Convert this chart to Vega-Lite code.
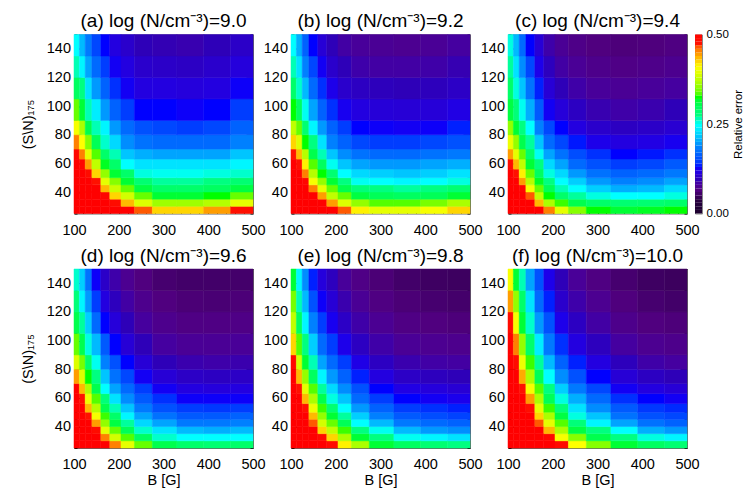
{"$schema":"https://vega.github.io/schema/vega-lite/v6.json","background":"white","padding":{"left":20,"top":11.5,"right":0,"bottom":5},
"config":{"font":"Liberation Sans","view":{"stroke":null},"title":{"fontSize":19,"fontWeight":"normal","color":"#000","anchor":"middle","offset":-4.5},"axis":{"grid":false,"zindex":1,"domainColor":"#666","tickColor":"#000","labelFontSize":14.5,"titleFontSize":14.5,"titleFontWeight":"normal","labelColor":"#000","titleColor":"#000","labelOverlap":false,"labelBound":false,"labelFlush":false}},
"datasets":{
"bx":[{"b":100,"b2":112},{"b":112,"b2":125},{"b":125,"b2":140},{"b":140,"b2":160},{"b":160,"b2":180},{"b":180,"b2":205},{"b":205,"b2":235},{"b":235,"b2":275},{"b":275,"b2":330},{"b":330,"b2":390},{"b":390,"b2":450},{"b":450,"b2":500}],
"sx":[{"s":25,"s2":30},{"s":30,"s2":35},{"s":35,"s2":40},{"s":40,"s2":45},{"s":45,"s2":50},{"s":50,"s2":56},{"s":56,"s2":63},{"s":63,"s2":70},{"s":70,"s2":80},{"s":80,"s2":90},{"s":90,"s2":105},{"s":105,"s2":120},{"s":120,"s2":135},{"s":135,"s2":150}],
"a":[{"b":100,"s":25,"e":0.5},{"b":100,"s":30,"e":0.5},{"b":100,"s":35,"e":0.5},{"b":100,"s":40,"e":0.5},{"b":100,"s":45,"e":0.5},{"b":100,"s":50,"e":0.5},{"b":100,"s":56,"e":0.5},{"b":100,"s":63,"e":0.49},{"b":100,"s":70,"e":0.45},{"b":100,"s":80,"e":0.4},{"b":100,"s":90,"e":0.335},{"b":100,"s":105,"e":0.29},{"b":100,"s":120,"e":0.26},{"b":100,"s":135,"e":0.24},
{"b":112,"s":25,"e":0.5},{"b":112,"s":30,"e":0.5},{"b":112,"s":35,"e":0.5},{"b":112,"s":40,"e":0.5},{"b":112,"s":45,"e":0.5},{"b":112,"s":50,"e":0.5},{"b":112,"s":56,"e":0.49},{"b":112,"s":63,"e":0.45},{"b":112,"s":70,"e":0.405},{"b":112,"s":80,"e":0.36},{"b":112,"s":90,"e":0.31},{"b":112,"s":105,"e":0.27},{"b":112,"s":120,"e":0.235},{"b":112,"s":135,"e":0.205},
{"b":125,"s":25,"e":0.5},{"b":125,"s":30,"e":0.5},{"b":125,"s":35,"e":0.5},{"b":125,"s":40,"e":0.5},{"b":125,"s":45,"e":0.5},{"b":125,"s":50,"e":0.48},{"b":125,"s":56,"e":0.44},{"b":125,"s":63,"e":0.39},{"b":125,"s":70,"e":0.345},{"b":125,"s":80,"e":0.3},{"b":125,"s":90,"e":0.26},{"b":125,"s":105,"e":0.225},{"b":125,"s":120,"e":0.195},{"b":125,"s":135,"e":0.175},
{"b":140,"s":25,"e":0.5},{"b":140,"s":30,"e":0.5},{"b":140,"s":35,"e":0.5},{"b":140,"s":40,"e":0.5},{"b":140,"s":45,"e":0.47},{"b":140,"s":50,"e":0.42},{"b":140,"s":56,"e":0.37},{"b":140,"s":63,"e":0.33},{"b":140,"s":70,"e":0.295},{"b":140,"s":80,"e":0.26},{"b":140,"s":90,"e":0.23},{"b":140,"s":105,"e":0.19},{"b":140,"s":120,"e":0.165},{"b":140,"s":135,"e":0.145},
{"b":160,"s":25,"e":0.5},{"b":160,"s":30,"e":0.5},{"b":160,"s":35,"e":0.49},{"b":160,"s":40,"e":0.43},{"b":160,"s":45,"e":0.39},{"b":160,"s":50,"e":0.35},{"b":160,"s":56,"e":0.315},{"b":160,"s":63,"e":0.285},{"b":160,"s":70,"e":0.255},{"b":160,"s":80,"e":0.235},{"b":160,"s":90,"e":0.19},{"b":160,"s":105,"e":0.16},{"b":160,"s":120,"e":0.14},{"b":160,"s":135,"e":0.125},
{"b":180,"s":25,"e":0.5},{"b":180,"s":30,"e":0.48},{"b":180,"s":35,"e":0.42},{"b":180,"s":40,"e":0.375},{"b":180,"s":45,"e":0.345},{"b":180,"s":50,"e":0.31},{"b":180,"s":56,"e":0.285},{"b":180,"s":63,"e":0.26},{"b":180,"s":70,"e":0.22},{"b":180,"s":80,"e":0.19},{"b":180,"s":90,"e":0.16},{"b":180,"s":105,"e":0.135},{"b":180,"s":120,"e":0.12},{"b":180,"s":135,"e":0.11},
{"b":205,"s":25,"e":0.5},{"b":205,"s":30,"e":0.43},{"b":205,"s":35,"e":0.38},{"b":205,"s":40,"e":0.335},{"b":205,"s":45,"e":0.31},{"b":205,"s":50,"e":0.285},{"b":205,"s":56,"e":0.24},{"b":205,"s":63,"e":0.21},{"b":205,"s":70,"e":0.185},{"b":205,"s":80,"e":0.165},{"b":205,"s":90,"e":0.14},{"b":205,"s":105,"e":0.12},{"b":205,"s":120,"e":0.11},{"b":205,"s":135,"e":0.1},
{"b":235,"s":25,"e":0.46},{"b":235,"s":30,"e":0.385},{"b":235,"s":35,"e":0.335},{"b":235,"s":40,"e":0.305},{"b":235,"s":45,"e":0.28},{"b":235,"s":50,"e":0.25},{"b":235,"s":56,"e":0.225},{"b":235,"s":63,"e":0.2},{"b":235,"s":70,"e":0.17},{"b":235,"s":80,"e":0.15},{"b":235,"s":90,"e":0.125},{"b":235,"s":105,"e":0.11},{"b":235,"s":120,"e":0.1},{"b":235,"s":135,"e":0.09},
{"b":275,"s":25,"e":0.42},{"b":275,"s":30,"e":0.355},{"b":275,"s":35,"e":0.31},{"b":275,"s":40,"e":0.285},{"b":275,"s":45,"e":0.265},{"b":275,"s":50,"e":0.245},{"b":275,"s":56,"e":0.225},{"b":275,"s":63,"e":0.195},{"b":275,"s":70,"e":0.165},{"b":275,"s":80,"e":0.145},{"b":275,"s":90,"e":0.125},{"b":275,"s":105,"e":0.11},{"b":275,"s":120,"e":0.098},{"b":275,"s":135,"e":0.088},
{"b":330,"s":25,"e":0.42},{"b":330,"s":30,"e":0.355},{"b":330,"s":35,"e":0.31},{"b":330,"s":40,"e":0.285},{"b":330,"s":45,"e":0.265},{"b":330,"s":50,"e":0.245},{"b":330,"s":56,"e":0.225},{"b":330,"s":63,"e":0.195},{"b":330,"s":70,"e":0.165},{"b":330,"s":80,"e":0.14},{"b":330,"s":90,"e":0.122},{"b":330,"s":105,"e":0.108},{"b":330,"s":120,"e":0.096},{"b":330,"s":135,"e":0.086},
{"b":390,"s":25,"e":0.44},{"b":390,"s":30,"e":0.365},{"b":390,"s":35,"e":0.32},{"b":390,"s":40,"e":0.29},{"b":390,"s":45,"e":0.27},{"b":390,"s":50,"e":0.25},{"b":390,"s":56,"e":0.225},{"b":390,"s":63,"e":0.195},{"b":390,"s":70,"e":0.165},{"b":390,"s":80,"e":0.145},{"b":390,"s":90,"e":0.125},{"b":390,"s":105,"e":0.11},{"b":390,"s":120,"e":0.1},{"b":390,"s":135,"e":0.09},
{"b":450,"s":25,"e":0.47},{"b":450,"s":30,"e":0.39},{"b":450,"s":35,"e":0.335},{"b":450,"s":40,"e":0.305},{"b":450,"s":45,"e":0.28},{"b":450,"s":50,"e":0.255},{"b":450,"s":56,"e":0.235},{"b":450,"s":63,"e":0.21},{"b":450,"s":70,"e":0.18},{"b":450,"s":80,"e":0.16},{"b":450,"s":90,"e":0.14},{"b":450,"s":105,"e":0.122},{"b":450,"s":120,"e":0.108},{"b":450,"s":135,"e":0.098}],
"c1":[{"b":100,"s":25,"e":0.5},{"b":100,"s":30,"e":0.5},{"b":100,"s":35,"e":0.5},{"b":100,"s":40,"e":0.5},{"b":100,"s":45,"e":0.5},{"b":100,"s":50,"e":0.5},{"b":100,"s":56,"e":0.5},{"b":100,"s":63,"e":0.47},{"b":100,"s":70,"e":0.42},{"b":100,"s":80,"e":0.37},{"b":100,"s":90,"e":0.32},{"b":100,"s":105,"e":0.285},{"b":100,"s":120,"e":0.26},{"b":100,"s":135,"e":0.24},
{"b":112,"s":25,"e":0.5},{"b":112,"s":30,"e":0.5},{"b":112,"s":35,"e":0.5},{"b":112,"s":40,"e":0.5},{"b":112,"s":45,"e":0.5},{"b":112,"s":50,"e":0.5},{"b":112,"s":56,"e":0.47},{"b":112,"s":63,"e":0.43},{"b":112,"s":70,"e":0.385},{"b":112,"s":80,"e":0.335},{"b":112,"s":90,"e":0.29},{"b":112,"s":105,"e":0.255},{"b":112,"s":120,"e":0.225},{"b":112,"s":135,"e":0.2},
{"b":125,"s":25,"e":0.5},{"b":125,"s":30,"e":0.5},{"b":125,"s":35,"e":0.5},{"b":125,"s":40,"e":0.5},{"b":125,"s":45,"e":0.49},{"b":125,"s":50,"e":0.45},{"b":125,"s":56,"e":0.41},{"b":125,"s":63,"e":0.365},{"b":125,"s":70,"e":0.32},{"b":125,"s":80,"e":0.28},{"b":125,"s":90,"e":0.245},{"b":125,"s":105,"e":0.205},{"b":125,"s":120,"e":0.18},{"b":125,"s":135,"e":0.16},
{"b":140,"s":25,"e":0.5},{"b":140,"s":30,"e":0.5},{"b":140,"s":35,"e":0.5},{"b":140,"s":40,"e":0.45},{"b":140,"s":45,"e":0.4},{"b":140,"s":50,"e":0.365},{"b":140,"s":56,"e":0.33},{"b":140,"s":63,"e":0.3},{"b":140,"s":70,"e":0.27},{"b":140,"s":80,"e":0.235},{"b":140,"s":90,"e":0.195},{"b":140,"s":105,"e":0.165},{"b":140,"s":120,"e":0.145},{"b":140,"s":135,"e":0.125},
{"b":160,"s":25,"e":0.5},{"b":160,"s":30,"e":0.5},{"b":160,"s":35,"e":0.44},{"b":160,"s":40,"e":0.39},{"b":160,"s":45,"e":0.35},{"b":160,"s":50,"e":0.32},{"b":160,"s":56,"e":0.29},{"b":160,"s":63,"e":0.26},{"b":160,"s":70,"e":0.225},{"b":160,"s":80,"e":0.19},{"b":160,"s":90,"e":0.16},{"b":160,"s":105,"e":0.135},{"b":160,"s":120,"e":0.12},{"b":160,"s":135,"e":0.105},
{"b":180,"s":25,"e":0.5},{"b":180,"s":30,"e":0.44},{"b":180,"s":35,"e":0.37},{"b":180,"s":40,"e":0.335},{"b":180,"s":45,"e":0.31},{"b":180,"s":50,"e":0.28},{"b":180,"s":56,"e":0.245},{"b":180,"s":63,"e":0.21},{"b":180,"s":70,"e":0.18},{"b":180,"s":80,"e":0.16},{"b":180,"s":90,"e":0.135},{"b":180,"s":105,"e":0.115},{"b":180,"s":120,"e":0.1},{"b":180,"s":135,"e":0.09},
{"b":205,"s":25,"e":0.46},{"b":205,"s":30,"e":0.385},{"b":205,"s":35,"e":0.335},{"b":205,"s":40,"e":0.3},{"b":205,"s":45,"e":0.27},{"b":205,"s":50,"e":0.24},{"b":205,"s":56,"e":0.21},{"b":205,"s":63,"e":0.185},{"b":205,"s":70,"e":0.16},{"b":205,"s":80,"e":0.14},{"b":205,"s":90,"e":0.118},{"b":205,"s":105,"e":0.1},{"b":205,"s":120,"e":0.09},{"b":205,"s":135,"e":0.08},
{"b":235,"s":25,"e":0.41},{"b":235,"s":30,"e":0.35},{"b":235,"s":35,"e":0.305},{"b":235,"s":40,"e":0.275},{"b":235,"s":45,"e":0.245},{"b":235,"s":50,"e":0.22},{"b":235,"s":56,"e":0.195},{"b":235,"s":63,"e":0.17},{"b":235,"s":70,"e":0.145},{"b":235,"s":80,"e":0.125},{"b":235,"s":90,"e":0.11},{"b":235,"s":105,"e":0.095},{"b":235,"s":120,"e":0.083},{"b":235,"s":135,"e":0.075},
{"b":275,"s":25,"e":0.39},{"b":275,"s":30,"e":0.33},{"b":275,"s":35,"e":0.295},{"b":275,"s":40,"e":0.27},{"b":275,"s":45,"e":0.24},{"b":275,"s":50,"e":0.215},{"b":275,"s":56,"e":0.19},{"b":275,"s":63,"e":0.165},{"b":275,"s":70,"e":0.14},{"b":275,"s":80,"e":0.122},{"b":275,"s":90,"e":0.106},{"b":275,"s":105,"e":0.092},{"b":275,"s":120,"e":0.08},{"b":275,"s":135,"e":0.072},
{"b":330,"s":25,"e":0.39},{"b":330,"s":30,"e":0.33},{"b":330,"s":35,"e":0.29},{"b":330,"s":40,"e":0.265},{"b":330,"s":45,"e":0.235},{"b":330,"s":50,"e":0.21},{"b":330,"s":56,"e":0.19},{"b":330,"s":63,"e":0.165},{"b":330,"s":70,"e":0.14},{"b":330,"s":80,"e":0.12},{"b":330,"s":90,"e":0.105},{"b":330,"s":105,"e":0.09},{"b":330,"s":120,"e":0.08},{"b":330,"s":135,"e":0.07},
{"b":390,"s":25,"e":0.4},{"b":390,"s":30,"e":0.34},{"b":390,"s":35,"e":0.295},{"b":390,"s":40,"e":0.27},{"b":390,"s":45,"e":0.24},{"b":390,"s":50,"e":0.215},{"b":390,"s":56,"e":0.195},{"b":390,"s":63,"e":0.17},{"b":390,"s":70,"e":0.145},{"b":390,"s":80,"e":0.122},{"b":390,"s":90,"e":0.106},{"b":390,"s":105,"e":0.092},{"b":390,"s":120,"e":0.082},{"b":390,"s":135,"e":0.073},
{"b":450,"s":25,"e":0.42},{"b":450,"s":30,"e":0.36},{"b":450,"s":35,"e":0.31},{"b":450,"s":40,"e":0.28},{"b":450,"s":45,"e":0.25},{"b":450,"s":50,"e":0.225},{"b":450,"s":56,"e":0.2},{"b":450,"s":63,"e":0.175},{"b":450,"s":70,"e":0.15},{"b":450,"s":80,"e":0.13},{"b":450,"s":90,"e":0.112},{"b":450,"s":105,"e":0.097},{"b":450,"s":120,"e":0.087},{"b":450,"s":135,"e":0.078}],
"c2":[{"b":100,"s":25,"e":0.5},{"b":100,"s":30,"e":0.5},{"b":100,"s":35,"e":0.5},{"b":100,"s":40,"e":0.5},{"b":100,"s":45,"e":0.5},{"b":100,"s":50,"e":0.5},{"b":100,"s":56,"e":0.48},{"b":100,"s":63,"e":0.44},{"b":100,"s":70,"e":0.395},{"b":100,"s":80,"e":0.35},{"b":100,"s":90,"e":0.305},{"b":100,"s":105,"e":0.285},{"b":100,"s":120,"e":0.265},{"b":100,"s":135,"e":0.25},
{"b":112,"s":25,"e":0.5},{"b":112,"s":30,"e":0.5},{"b":112,"s":35,"e":0.5},{"b":112,"s":40,"e":0.5},{"b":112,"s":45,"e":0.5},{"b":112,"s":50,"e":0.47},{"b":112,"s":56,"e":0.43},{"b":112,"s":63,"e":0.39},{"b":112,"s":70,"e":0.35},{"b":112,"s":80,"e":0.31},{"b":112,"s":90,"e":0.275},{"b":112,"s":105,"e":0.25},{"b":112,"s":120,"e":0.225},{"b":112,"s":135,"e":0.205},
{"b":125,"s":25,"e":0.5},{"b":125,"s":30,"e":0.5},{"b":125,"s":35,"e":0.5},{"b":125,"s":40,"e":0.49},{"b":125,"s":45,"e":0.44},{"b":125,"s":50,"e":0.41},{"b":125,"s":56,"e":0.37},{"b":125,"s":63,"e":0.335},{"b":125,"s":70,"e":0.3},{"b":125,"s":80,"e":0.27},{"b":125,"s":90,"e":0.245},{"b":125,"s":105,"e":0.21},{"b":125,"s":120,"e":0.185},{"b":125,"s":135,"e":0.165},
{"b":140,"s":25,"e":0.5},{"b":140,"s":30,"e":0.5},{"b":140,"s":35,"e":0.46},{"b":140,"s":40,"e":0.4},{"b":140,"s":45,"e":0.365},{"b":140,"s":50,"e":0.335},{"b":140,"s":56,"e":0.31},{"b":140,"s":63,"e":0.285},{"b":140,"s":70,"e":0.265},{"b":140,"s":80,"e":0.24},{"b":140,"s":90,"e":0.2},{"b":140,"s":105,"e":0.17},{"b":140,"s":120,"e":0.145},{"b":140,"s":135,"e":0.125},
{"b":160,"s":25,"e":0.5},{"b":160,"s":30,"e":0.43},{"b":160,"s":35,"e":0.37},{"b":160,"s":40,"e":0.335},{"b":160,"s":45,"e":0.315},{"b":160,"s":50,"e":0.29},{"b":160,"s":56,"e":0.27},{"b":160,"s":63,"e":0.245},{"b":160,"s":70,"e":0.21},{"b":160,"s":80,"e":0.18},{"b":160,"s":90,"e":0.155},{"b":160,"s":105,"e":0.13},{"b":160,"s":120,"e":0.115},{"b":160,"s":135,"e":0.105},
{"b":180,"s":25,"e":0.45},{"b":180,"s":30,"e":0.36},{"b":180,"s":35,"e":0.32},{"b":180,"s":40,"e":0.295},{"b":180,"s":45,"e":0.27},{"b":180,"s":50,"e":0.25},{"b":180,"s":56,"e":0.22},{"b":180,"s":63,"e":0.195},{"b":180,"s":70,"e":0.165},{"b":180,"s":80,"e":0.145},{"b":180,"s":90,"e":0.12},{"b":180,"s":105,"e":0.105},{"b":180,"s":120,"e":0.093},{"b":180,"s":135,"e":0.083},
{"b":205,"s":25,"e":0.39},{"b":205,"s":30,"e":0.325},{"b":205,"s":35,"e":0.285},{"b":205,"s":40,"e":0.26},{"b":205,"s":45,"e":0.24},{"b":205,"s":50,"e":0.22},{"b":205,"s":56,"e":0.195},{"b":205,"s":63,"e":0.17},{"b":205,"s":70,"e":0.145},{"b":205,"s":80,"e":0.125},{"b":205,"s":90,"e":0.107},{"b":205,"s":105,"e":0.09},{"b":205,"s":120,"e":0.08},{"b":205,"s":135,"e":0.072},
{"b":235,"s":25,"e":0.345},{"b":235,"s":30,"e":0.3},{"b":235,"s":35,"e":0.265},{"b":235,"s":40,"e":0.24},{"b":235,"s":45,"e":0.215},{"b":235,"s":50,"e":0.19},{"b":235,"s":56,"e":0.165},{"b":235,"s":63,"e":0.148},{"b":235,"s":70,"e":0.128},{"b":235,"s":80,"e":0.11},{"b":235,"s":90,"e":0.095},{"b":235,"s":105,"e":0.082},{"b":235,"s":120,"e":0.073},{"b":235,"s":135,"e":0.065},
{"b":275,"s":25,"e":0.32},{"b":275,"s":30,"e":0.285},{"b":275,"s":35,"e":0.25},{"b":275,"s":40,"e":0.215},{"b":275,"s":45,"e":0.19},{"b":275,"s":50,"e":0.17},{"b":275,"s":56,"e":0.15},{"b":275,"s":63,"e":0.135},{"b":275,"s":70,"e":0.115},{"b":275,"s":80,"e":0.1},{"b":275,"s":90,"e":0.086},{"b":275,"s":105,"e":0.075},{"b":275,"s":120,"e":0.067},{"b":275,"s":135,"e":0.06},
{"b":330,"s":25,"e":0.31},{"b":330,"s":30,"e":0.28},{"b":330,"s":35,"e":0.24},{"b":330,"s":40,"e":0.2},{"b":330,"s":45,"e":0.18},{"b":330,"s":50,"e":0.16},{"b":330,"s":56,"e":0.14},{"b":330,"s":63,"e":0.125},{"b":330,"s":70,"e":0.11},{"b":330,"s":80,"e":0.095},{"b":330,"s":90,"e":0.082},{"b":330,"s":105,"e":0.072},{"b":330,"s":120,"e":0.064},{"b":330,"s":135,"e":0.058},
{"b":390,"s":25,"e":0.315},{"b":390,"s":30,"e":0.28},{"b":390,"s":35,"e":0.24},{"b":390,"s":40,"e":0.205},{"b":390,"s":45,"e":0.185},{"b":390,"s":50,"e":0.165},{"b":390,"s":56,"e":0.145},{"b":390,"s":63,"e":0.128},{"b":390,"s":70,"e":0.112},{"b":390,"s":80,"e":0.098},{"b":390,"s":90,"e":0.085},{"b":390,"s":105,"e":0.075},{"b":390,"s":120,"e":0.066},{"b":390,"s":135,"e":0.059},
{"b":450,"s":25,"e":0.32},{"b":450,"s":30,"e":0.285},{"b":450,"s":35,"e":0.25},{"b":450,"s":40,"e":0.22},{"b":450,"s":45,"e":0.195},{"b":450,"s":50,"e":0.175},{"b":450,"s":56,"e":0.155},{"b":450,"s":63,"e":0.135},{"b":450,"s":70,"e":0.118},{"b":450,"s":80,"e":0.103},{"b":450,"s":90,"e":0.09},{"b":450,"s":105,"e":0.078},{"b":450,"s":120,"e":0.069},{"b":450,"s":135,"e":0.062}],
"d":[{"b":100,"s":25,"e":0.5},{"b":100,"s":30,"e":0.5},{"b":100,"s":35,"e":0.5},{"b":100,"s":40,"e":0.5},{"b":100,"s":45,"e":0.5},{"b":100,"s":50,"e":0.5},{"b":100,"s":56,"e":0.5},{"b":100,"s":63,"e":0.5},{"b":100,"s":70,"e":0.44},{"b":100,"s":80,"e":0.385},{"b":100,"s":90,"e":0.335},{"b":100,"s":105,"e":0.3},{"b":100,"s":120,"e":0.275},{"b":100,"s":135,"e":0.255},
{"b":112,"s":25,"e":0.5},{"b":112,"s":30,"e":0.5},{"b":112,"s":35,"e":0.5},{"b":112,"s":40,"e":0.5},{"b":112,"s":45,"e":0.5},{"b":112,"s":50,"e":0.5},{"b":112,"s":56,"e":0.47},{"b":112,"s":63,"e":0.43},{"b":112,"s":70,"e":0.385},{"b":112,"s":80,"e":0.34},{"b":112,"s":90,"e":0.3},{"b":112,"s":105,"e":0.265},{"b":112,"s":120,"e":0.235},{"b":112,"s":135,"e":0.215},
{"b":125,"s":25,"e":0.5},{"b":125,"s":30,"e":0.5},{"b":125,"s":35,"e":0.5},{"b":125,"s":40,"e":0.5},{"b":125,"s":45,"e":0.47},{"b":125,"s":50,"e":0.43},{"b":125,"s":56,"e":0.395},{"b":125,"s":63,"e":0.36},{"b":125,"s":70,"e":0.32},{"b":125,"s":80,"e":0.285},{"b":125,"s":90,"e":0.25},{"b":125,"s":105,"e":0.215},{"b":125,"s":120,"e":0.19},{"b":125,"s":135,"e":0.17},
{"b":140,"s":25,"e":0.5},{"b":140,"s":30,"e":0.5},{"b":140,"s":35,"e":0.48},{"b":140,"s":40,"e":0.44},{"b":140,"s":45,"e":0.4},{"b":140,"s":50,"e":0.365},{"b":140,"s":56,"e":0.33},{"b":140,"s":63,"e":0.3},{"b":140,"s":70,"e":0.27},{"b":140,"s":80,"e":0.245},{"b":140,"s":90,"e":0.205},{"b":140,"s":105,"e":0.165},{"b":140,"s":120,"e":0.14},{"b":140,"s":135,"e":0.122},
{"b":160,"s":25,"e":0.5},{"b":160,"s":30,"e":0.45},{"b":160,"s":35,"e":0.39},{"b":160,"s":40,"e":0.35},{"b":160,"s":45,"e":0.325},{"b":160,"s":50,"e":0.3},{"b":160,"s":56,"e":0.275},{"b":160,"s":63,"e":0.24},{"b":160,"s":70,"e":0.21},{"b":160,"s":80,"e":0.18},{"b":160,"s":90,"e":0.155},{"b":160,"s":105,"e":0.125},{"b":160,"s":120,"e":0.11},{"b":160,"s":135,"e":0.098},
{"b":180,"s":25,"e":0.45},{"b":180,"s":30,"e":0.38},{"b":180,"s":35,"e":0.335},{"b":180,"s":40,"e":0.305},{"b":180,"s":45,"e":0.285},{"b":180,"s":50,"e":0.26},{"b":180,"s":56,"e":0.225},{"b":180,"s":63,"e":0.195},{"b":180,"s":70,"e":0.17},{"b":180,"s":80,"e":0.15},{"b":180,"s":90,"e":0.125},{"b":180,"s":105,"e":0.107},{"b":180,"s":120,"e":0.093},{"b":180,"s":135,"e":0.083},
{"b":205,"s":25,"e":0.39},{"b":205,"s":30,"e":0.33},{"b":205,"s":35,"e":0.295},{"b":205,"s":40,"e":0.265},{"b":205,"s":45,"e":0.235},{"b":205,"s":50,"e":0.21},{"b":205,"s":56,"e":0.185},{"b":205,"s":63,"e":0.165},{"b":205,"s":70,"e":0.145},{"b":205,"s":80,"e":0.125},{"b":205,"s":90,"e":0.105},{"b":205,"s":105,"e":0.09},{"b":205,"s":120,"e":0.08},{"b":205,"s":135,"e":0.07},
{"b":235,"s":25,"e":0.335},{"b":235,"s":30,"e":0.29},{"b":235,"s":35,"e":0.255},{"b":235,"s":40,"e":0.22},{"b":235,"s":45,"e":0.195},{"b":235,"s":50,"e":0.175},{"b":235,"s":56,"e":0.155},{"b":235,"s":63,"e":0.14},{"b":235,"s":70,"e":0.12},{"b":235,"s":80,"e":0.105},{"b":235,"s":90,"e":0.09},{"b":235,"s":105,"e":0.077},{"b":235,"s":120,"e":0.068},{"b":235,"s":135,"e":0.06},
{"b":275,"s":25,"e":0.3},{"b":275,"s":30,"e":0.255},{"b":275,"s":35,"e":0.225},{"b":275,"s":40,"e":0.195},{"b":275,"s":45,"e":0.17},{"b":275,"s":50,"e":0.15},{"b":275,"s":56,"e":0.135},{"b":275,"s":63,"e":0.12},{"b":275,"s":70,"e":0.105},{"b":275,"s":80,"e":0.09},{"b":275,"s":90,"e":0.078},{"b":275,"s":105,"e":0.068},{"b":275,"s":120,"e":0.06},{"b":275,"s":135,"e":0.053},
{"b":330,"s":25,"e":0.285},{"b":330,"s":30,"e":0.24},{"b":330,"s":35,"e":0.205},{"b":330,"s":40,"e":0.175},{"b":330,"s":45,"e":0.155},{"b":330,"s":50,"e":0.14},{"b":330,"s":56,"e":0.122},{"b":330,"s":63,"e":0.11},{"b":330,"s":70,"e":0.097},{"b":330,"s":80,"e":0.085},{"b":330,"s":90,"e":0.073},{"b":330,"s":105,"e":0.063},{"b":330,"s":120,"e":0.056},{"b":330,"s":135,"e":0.05},
{"b":390,"s":25,"e":0.28},{"b":390,"s":30,"e":0.24},{"b":390,"s":35,"e":0.2},{"b":390,"s":40,"e":0.175},{"b":390,"s":45,"e":0.155},{"b":390,"s":50,"e":0.138},{"b":390,"s":56,"e":0.122},{"b":390,"s":63,"e":0.108},{"b":390,"s":70,"e":0.095},{"b":390,"s":80,"e":0.083},{"b":390,"s":90,"e":0.072},{"b":390,"s":105,"e":0.063},{"b":390,"s":120,"e":0.055},{"b":390,"s":135,"e":0.05},
{"b":450,"s":25,"e":0.285},{"b":450,"s":30,"e":0.24},{"b":450,"s":35,"e":0.205},{"b":450,"s":40,"e":0.18},{"b":450,"s":45,"e":0.16},{"b":450,"s":50,"e":0.14},{"b":450,"s":56,"e":0.122},{"b":450,"s":63,"e":0.11},{"b":450,"s":70,"e":0.097},{"b":450,"s":80,"e":0.085},{"b":450,"s":90,"e":0.074},{"b":450,"s":105,"e":0.064},{"b":450,"s":120,"e":0.057},{"b":450,"s":135,"e":0.051}],
"e1":[{"b":100,"s":25,"e":0.5},{"b":100,"s":30,"e":0.5},{"b":100,"s":35,"e":0.5},{"b":100,"s":40,"e":0.5},{"b":100,"s":45,"e":0.5},{"b":100,"s":50,"e":0.5},{"b":100,"s":56,"e":0.5},{"b":100,"s":63,"e":0.5},{"b":100,"s":70,"e":0.5},{"b":100,"s":80,"e":0.49},{"b":100,"s":90,"e":0.42},{"b":100,"s":105,"e":0.37},{"b":100,"s":120,"e":0.34},{"b":100,"s":135,"e":0.31},
{"b":112,"s":25,"e":0.5},{"b":112,"s":30,"e":0.5},{"b":112,"s":35,"e":0.5},{"b":112,"s":40,"e":0.5},{"b":112,"s":45,"e":0.5},{"b":112,"s":50,"e":0.5},{"b":112,"s":56,"e":0.5},{"b":112,"s":63,"e":0.47},{"b":112,"s":70,"e":0.43},{"b":112,"s":80,"e":0.38},{"b":112,"s":90,"e":0.33},{"b":112,"s":105,"e":0.29},{"b":112,"s":120,"e":0.26},{"b":112,"s":135,"e":0.235},
{"b":125,"s":25,"e":0.5},{"b":125,"s":30,"e":0.5},{"b":125,"s":35,"e":0.5},{"b":125,"s":40,"e":0.5},{"b":125,"s":45,"e":0.5},{"b":125,"s":50,"e":0.47},{"b":125,"s":56,"e":0.43},{"b":125,"s":63,"e":0.39},{"b":125,"s":70,"e":0.35},{"b":125,"s":80,"e":0.31},{"b":125,"s":90,"e":0.27},{"b":125,"s":105,"e":0.235},{"b":125,"s":120,"e":0.205},{"b":125,"s":135,"e":0.185},
{"b":140,"s":25,"e":0.5},{"b":140,"s":30,"e":0.5},{"b":140,"s":35,"e":0.5},{"b":140,"s":40,"e":0.46},{"b":140,"s":45,"e":0.43},{"b":140,"s":50,"e":0.395},{"b":140,"s":56,"e":0.36},{"b":140,"s":63,"e":0.33},{"b":140,"s":70,"e":0.29},{"b":140,"s":80,"e":0.26},{"b":140,"s":90,"e":0.215},{"b":140,"s":105,"e":0.18},{"b":140,"s":120,"e":0.15},{"b":140,"s":135,"e":0.13},
{"b":160,"s":25,"e":0.5},{"b":160,"s":30,"e":0.48},{"b":160,"s":35,"e":0.42},{"b":160,"s":40,"e":0.38},{"b":160,"s":45,"e":0.35},{"b":160,"s":50,"e":0.325},{"b":160,"s":56,"e":0.3},{"b":160,"s":63,"e":0.265},{"b":160,"s":70,"e":0.235},{"b":160,"s":80,"e":0.195},{"b":160,"s":90,"e":0.165},{"b":160,"s":105,"e":0.14},{"b":160,"s":120,"e":0.122},{"b":160,"s":135,"e":0.108},
{"b":180,"s":25,"e":0.48},{"b":180,"s":30,"e":0.42},{"b":180,"s":35,"e":0.37},{"b":180,"s":40,"e":0.335},{"b":180,"s":45,"e":0.31},{"b":180,"s":50,"e":0.28},{"b":180,"s":56,"e":0.25},{"b":180,"s":63,"e":0.22},{"b":180,"s":70,"e":0.19},{"b":180,"s":80,"e":0.165},{"b":180,"s":90,"e":0.14},{"b":180,"s":105,"e":0.118},{"b":180,"s":120,"e":0.105},{"b":180,"s":135,"e":0.093},
{"b":205,"s":25,"e":0.41},{"b":205,"s":30,"e":0.36},{"b":205,"s":35,"e":0.325},{"b":205,"s":40,"e":0.295},{"b":205,"s":45,"e":0.265},{"b":205,"s":50,"e":0.24},{"b":205,"s":56,"e":0.21},{"b":205,"s":63,"e":0.185},{"b":205,"s":70,"e":0.16},{"b":205,"s":80,"e":0.14},{"b":205,"s":90,"e":0.115},{"b":205,"s":105,"e":0.097},{"b":205,"s":120,"e":0.085},{"b":205,"s":135,"e":0.075},
{"b":235,"s":25,"e":0.36},{"b":235,"s":30,"e":0.31},{"b":235,"s":35,"e":0.27},{"b":235,"s":40,"e":0.24},{"b":235,"s":45,"e":0.215},{"b":235,"s":50,"e":0.19},{"b":235,"s":56,"e":0.165},{"b":235,"s":63,"e":0.15},{"b":235,"s":70,"e":0.13},{"b":235,"s":80,"e":0.113},{"b":235,"s":90,"e":0.095},{"b":235,"s":105,"e":0.082},{"b":235,"s":120,"e":0.072},{"b":235,"s":135,"e":0.064},
{"b":275,"s":25,"e":0.31},{"b":275,"s":30,"e":0.27},{"b":275,"s":35,"e":0.245},{"b":275,"s":40,"e":0.205},{"b":275,"s":45,"e":0.18},{"b":275,"s":50,"e":0.16},{"b":275,"s":56,"e":0.14},{"b":275,"s":63,"e":0.125},{"b":275,"s":70,"e":0.11},{"b":275,"s":80,"e":0.095},{"b":275,"s":90,"e":0.082},{"b":275,"s":105,"e":0.071},{"b":275,"s":120,"e":0.062},{"b":275,"s":135,"e":0.056},
{"b":330,"s":25,"e":0.29},{"b":330,"s":30,"e":0.245},{"b":330,"s":35,"e":0.205},{"b":330,"s":40,"e":0.175},{"b":330,"s":45,"e":0.155},{"b":330,"s":50,"e":0.14},{"b":330,"s":56,"e":0.125},{"b":330,"s":63,"e":0.112},{"b":330,"s":70,"e":0.097},{"b":330,"s":80,"e":0.085},{"b":330,"s":90,"e":0.073},{"b":330,"s":105,"e":0.063},{"b":330,"s":120,"e":0.056},{"b":330,"s":135,"e":0.05},
{"b":390,"s":25,"e":0.28},{"b":390,"s":30,"e":0.235},{"b":390,"s":35,"e":0.19},{"b":390,"s":40,"e":0.165},{"b":390,"s":45,"e":0.148},{"b":390,"s":50,"e":0.135},{"b":390,"s":56,"e":0.12},{"b":390,"s":63,"e":0.108},{"b":390,"s":70,"e":0.093},{"b":390,"s":80,"e":0.081},{"b":390,"s":90,"e":0.07},{"b":390,"s":105,"e":0.06},{"b":390,"s":120,"e":0.053},{"b":390,"s":135,"e":0.047},
{"b":450,"s":25,"e":0.27},{"b":450,"s":30,"e":0.225},{"b":450,"s":35,"e":0.185},{"b":450,"s":40,"e":0.16},{"b":450,"s":45,"e":0.143},{"b":450,"s":50,"e":0.13},{"b":450,"s":56,"e":0.116},{"b":450,"s":63,"e":0.104},{"b":450,"s":70,"e":0.09},{"b":450,"s":80,"e":0.079},{"b":450,"s":90,"e":0.068},{"b":450,"s":105,"e":0.058},{"b":450,"s":120,"e":0.051},{"b":450,"s":135,"e":0.046}],
"f":[{"b":100,"s":25,"e":0.5},{"b":100,"s":30,"e":0.5},{"b":100,"s":35,"e":0.5},{"b":100,"s":40,"e":0.5},{"b":100,"s":45,"e":0.5},{"b":100,"s":50,"e":0.5},{"b":100,"s":56,"e":0.5},{"b":100,"s":63,"e":0.5},{"b":100,"s":70,"e":0.5},{"b":100,"s":80,"e":0.5},{"b":100,"s":90,"e":0.5},{"b":100,"s":105,"e":0.48},{"b":100,"s":120,"e":0.44},{"b":100,"s":135,"e":0.4},
{"b":112,"s":25,"e":0.5},{"b":112,"s":30,"e":0.5},{"b":112,"s":35,"e":0.5},{"b":112,"s":40,"e":0.5},{"b":112,"s":45,"e":0.5},{"b":112,"s":50,"e":0.5},{"b":112,"s":56,"e":0.5},{"b":112,"s":63,"e":0.5},{"b":112,"s":70,"e":0.5},{"b":112,"s":80,"e":0.48},{"b":112,"s":90,"e":0.45},{"b":112,"s":105,"e":0.4},{"b":112,"s":120,"e":0.35},{"b":112,"s":135,"e":0.31},
{"b":125,"s":25,"e":0.5},{"b":125,"s":30,"e":0.5},{"b":125,"s":35,"e":0.5},{"b":125,"s":40,"e":0.5},{"b":125,"s":45,"e":0.5},{"b":125,"s":50,"e":0.5},{"b":125,"s":56,"e":0.5},{"b":125,"s":63,"e":0.47},{"b":125,"s":70,"e":0.435},{"b":125,"s":80,"e":0.395},{"b":125,"s":90,"e":0.35},{"b":125,"s":105,"e":0.31},{"b":125,"s":120,"e":0.285},{"b":125,"s":135,"e":0.26},
{"b":140,"s":25,"e":0.5},{"b":140,"s":30,"e":0.5},{"b":140,"s":35,"e":0.5},{"b":140,"s":40,"e":0.5},{"b":140,"s":45,"e":0.5},{"b":140,"s":50,"e":0.475},{"b":140,"s":56,"e":0.44},{"b":140,"s":63,"e":0.4},{"b":140,"s":70,"e":0.36},{"b":140,"s":80,"e":0.325},{"b":140,"s":90,"e":0.285},{"b":140,"s":105,"e":0.255},{"b":140,"s":120,"e":0.225},{"b":140,"s":135,"e":0.195},
{"b":160,"s":25,"e":0.5},{"b":160,"s":30,"e":0.5},{"b":160,"s":35,"e":0.5},{"b":160,"s":40,"e":0.46},{"b":160,"s":45,"e":0.42},{"b":160,"s":50,"e":0.39},{"b":160,"s":56,"e":0.36},{"b":160,"s":63,"e":0.33},{"b":160,"s":70,"e":0.295},{"b":160,"s":80,"e":0.265},{"b":160,"s":90,"e":0.23},{"b":160,"s":105,"e":0.19},{"b":160,"s":120,"e":0.165},{"b":160,"s":135,"e":0.15},
{"b":180,"s":25,"e":0.5},{"b":180,"s":30,"e":0.49},{"b":180,"s":35,"e":0.43},{"b":180,"s":40,"e":0.39},{"b":180,"s":45,"e":0.36},{"b":180,"s":50,"e":0.325},{"b":180,"s":56,"e":0.295},{"b":180,"s":63,"e":0.27},{"b":180,"s":70,"e":0.24},{"b":180,"s":80,"e":0.205},{"b":180,"s":90,"e":0.175},{"b":180,"s":105,"e":0.15},{"b":180,"s":120,"e":0.13},{"b":180,"s":135,"e":0.115},
{"b":205,"s":25,"e":0.48},{"b":205,"s":30,"e":0.4},{"b":205,"s":35,"e":0.36},{"b":205,"s":40,"e":0.33},{"b":205,"s":45,"e":0.305},{"b":205,"s":50,"e":0.275},{"b":205,"s":56,"e":0.25},{"b":205,"s":63,"e":0.215},{"b":205,"s":70,"e":0.185},{"b":205,"s":80,"e":0.16},{"b":205,"s":90,"e":0.135},{"b":205,"s":105,"e":0.115},{"b":205,"s":120,"e":0.1},{"b":205,"s":135,"e":0.09},
{"b":235,"s":25,"e":0.405},{"b":235,"s":30,"e":0.345},{"b":235,"s":35,"e":0.305},{"b":235,"s":40,"e":0.275},{"b":235,"s":45,"e":0.25},{"b":235,"s":50,"e":0.225},{"b":235,"s":56,"e":0.2},{"b":235,"s":63,"e":0.175},{"b":235,"s":70,"e":0.15},{"b":235,"s":80,"e":0.13},{"b":235,"s":90,"e":0.11},{"b":235,"s":105,"e":0.095},{"b":235,"s":120,"e":0.083},{"b":235,"s":135,"e":0.074},
{"b":275,"s":25,"e":0.345},{"b":275,"s":30,"e":0.3},{"b":275,"s":35,"e":0.27},{"b":275,"s":40,"e":0.235},{"b":275,"s":45,"e":0.21},{"b":275,"s":50,"e":0.185},{"b":275,"s":56,"e":0.165},{"b":275,"s":63,"e":0.145},{"b":275,"s":70,"e":0.125},{"b":275,"s":80,"e":0.11},{"b":275,"s":90,"e":0.093},{"b":275,"s":105,"e":0.08},{"b":275,"s":120,"e":0.07},{"b":275,"s":135,"e":0.062},
{"b":330,"s":25,"e":0.31},{"b":330,"s":30,"e":0.27},{"b":330,"s":35,"e":0.24},{"b":330,"s":40,"e":0.195},{"b":330,"s":45,"e":0.17},{"b":330,"s":50,"e":0.155},{"b":330,"s":56,"e":0.135},{"b":330,"s":63,"e":0.12},{"b":330,"s":70,"e":0.105},{"b":330,"s":80,"e":0.092},{"b":330,"s":90,"e":0.078},{"b":330,"s":105,"e":0.067},{"b":330,"s":120,"e":0.059},{"b":330,"s":135,"e":0.053},
{"b":390,"s":25,"e":0.29},{"b":390,"s":30,"e":0.25},{"b":390,"s":35,"e":0.2},{"b":390,"s":40,"e":0.17},{"b":390,"s":45,"e":0.15},{"b":390,"s":50,"e":0.138},{"b":390,"s":56,"e":0.125},{"b":390,"s":63,"e":0.11},{"b":390,"s":70,"e":0.095},{"b":390,"s":80,"e":0.082},{"b":390,"s":90,"e":0.07},{"b":390,"s":105,"e":0.06},{"b":390,"s":120,"e":0.053},{"b":390,"s":135,"e":0.047},
{"b":450,"s":25,"e":0.28},{"b":450,"s":30,"e":0.235},{"b":450,"s":35,"e":0.19},{"b":450,"s":40,"e":0.16},{"b":450,"s":45,"e":0.145},{"b":450,"s":50,"e":0.133},{"b":450,"s":56,"e":0.12},{"b":450,"s":63,"e":0.105},{"b":450,"s":70,"e":0.09},{"b":450,"s":80,"e":0.078},{"b":450,"s":90,"e":0.067},{"b":450,"s":105,"e":0.058},{"b":450,"s":120,"e":0.05},{"b":450,"s":135,"e":0.045}],
"bar":[{"lo":0,"hi":0.01},{"lo":0.01,"hi":0.02},{"lo":0.02,"hi":0.03},{"lo":0.03,"hi":0.04},{"lo":0.04,"hi":0.05},{"lo":0.05,"hi":0.06},{"lo":0.06,"hi":0.07},{"lo":0.07,"hi":0.08},{"lo":0.08,"hi":0.09},{"lo":0.09,"hi":0.1},{"lo":0.1,"hi":0.11},{"lo":0.11,"hi":0.12},{"lo":0.12,"hi":0.13},{"lo":0.13,"hi":0.14},{"lo":0.14,"hi":0.15},{"lo":0.15,"hi":0.16},{"lo":0.16,"hi":0.17},{"lo":0.17,"hi":0.18},{"lo":0.18,"hi":0.19},{"lo":0.19,"hi":0.2},{"lo":0.2,"hi":0.21},{"lo":0.21,"hi":0.22},{"lo":0.22,"hi":0.23},{"lo":0.23,"hi":0.24},{"lo":0.24,"hi":0.25},{"lo":0.25,"hi":0.26},{"lo":0.26,"hi":0.27},{"lo":0.27,"hi":0.28},{"lo":0.28,"hi":0.29},{"lo":0.29,"hi":0.3},{"lo":0.3,"hi":0.31},{"lo":0.31,"hi":0.32},{"lo":0.32,"hi":0.33},{"lo":0.33,"hi":0.34},{"lo":0.34,"hi":0.35},{"lo":0.35,"hi":0.36},{"lo":0.36,"hi":0.37},{"lo":0.37,"hi":0.38},{"lo":0.38,"hi":0.39},{"lo":0.39,"hi":0.4},{"lo":0.4,"hi":0.41},{"lo":0.41,"hi":0.42},{"lo":0.42,"hi":0.43},{"lo":0.43,"hi":0.44},{"lo":0.44,"hi":0.45},{"lo":0.45,"hi":0.46},{"lo":0.46,"hi":0.47},{"lo":0.47,"hi":0.48},{"lo":0.48,"hi":0.49},{"lo":0.49,"hi":0.5}],
"none":[]
},
"columns":7,"spacing":{"row":55.5,"column":0},"bounds":"flush",
"concat":[
{"width":179,"height":179,"title":"(a) log (N/cm⁻³)=9.0","layer":[{"data":{"name":"a"},"transform":[{"lookup":"b","from":{"data":{"name":"bx"},"key":"b","fields":["b2"]}},{"lookup":"s","from":{"data":{"name":"sx"},"key":"s","fields":["s2"]}}],"mark":{"type":"rect","strokeWidth":0.5},"encoding":{"x":{"field":"b","type":"quantitative","scale":{"domain":[100,500],"nice":false},"axis":{"orient":"bottom","values":[100,120,140,160,180,200,220,240,260,280,300,320,340,360,380,400,420,440,460,480,500],"labelExpr":"datum.value%100==0?datum.value:''","tickSize":{"condition":{"test":"datum.value%100==0","value":-7},"value":-3},"labelPadding":16.5,"title":null}},"x2":{"field":"b2"},"y":{"field":"s","type":"quantitative","scale":{"domain":[25,150],"nice":false},"axis":{"orient":"left","values":[25,30,35,40,45,50,55,60,65,70,75,80,85,90,95,100,105,110,115,120,125,130,135,140,145,150],"labelExpr":"datum.value%20==0?datum.value:''","tickSize":{"condition":{"test":"datum.value%20==0","value":-7},"value":-3},"labelPadding":10.5,"titlePadding":10.5,"title":"(S\\N)₁₇₅"}},"y2":{"field":"s2"},"color":{"field":"e","type":"quantitative","legend":null,"scale":{"domain":[0,0.03,0.06,0.09,0.125,0.18,0.24,0.27,0.32,0.405,0.45,0.47,0.5],"range":["#000000","#28003f","#50007f","#2e00b8","#0000ff","#0080ff","#00ffff","#00ff80","#00ff00","#ffff00","#ff8000","#ff1000","#ff0000"]}},"stroke":{"field":"e","type":"quantitative","legend":null,"scale":{"domain":[0,0.03,0.06,0.09,0.125,0.18,0.24,0.27,0.32,0.405,0.45,0.47,0.5],"range":["#000000","#28003f","#50007f","#2e00b8","#0000ff","#0080ff","#00ffff","#00ff80","#00ff00","#ffff00","#ff8000","#ff1000","#ff0000"]}}}},{"data":{"values":[{"b":100,"s":25}]},"mark":{"type":"point","opacity":0},"encoding":{"x":{"field":"b","type":"quantitative","axis":{"orient":"top","labels":false,"title":null,"values":[100,120,140,160,180,200,220,240,260,280,300,320,340,360,380,400,420,440,460,480,500],"tickSize":{"condition":{"test":"datum.value%100==0","value":-7},"value":-3}}},"y":{"field":"s","type":"quantitative","axis":{"orient":"right","labels":false,"title":null,"values":[25,30,35,40,45,50,55,60,65,70,75,80,85,90,95,100,105,110,115,120,125,130,135,140,145,150],"tickSize":{"condition":{"test":"datum.value%20==0","value":-7},"value":-3}}}}}],"resolve":{"axis":{"x":"independent","y":"independent"}}},
{"width":38,"height":179,"data":{"name":"none"},"mark":{"type":"point","opacity":0},"encoding":{}},
{"width":179,"height":179,"title":"(b) log (N/cm⁻³)=9.2","layer":[{"data":{"name":"c1"},"transform":[{"lookup":"b","from":{"data":{"name":"bx"},"key":"b","fields":["b2"]}},{"lookup":"s","from":{"data":{"name":"sx"},"key":"s","fields":["s2"]}}],"mark":{"type":"rect","strokeWidth":0.5},"encoding":{"x":{"field":"b","type":"quantitative","scale":{"domain":[100,500],"nice":false},"axis":{"orient":"bottom","values":[100,120,140,160,180,200,220,240,260,280,300,320,340,360,380,400,420,440,460,480,500],"labelExpr":"datum.value%100==0?datum.value:''","tickSize":{"condition":{"test":"datum.value%100==0","value":-7},"value":-3},"labelPadding":16.5,"title":null}},"x2":{"field":"b2"},"y":{"field":"s","type":"quantitative","scale":{"domain":[25,150],"nice":false},"axis":{"orient":"left","values":[25,30,35,40,45,50,55,60,65,70,75,80,85,90,95,100,105,110,115,120,125,130,135,140,145,150],"labelExpr":"datum.value%20==0?datum.value:''","tickSize":{"condition":{"test":"datum.value%20==0","value":-7},"value":-3},"labelPadding":10.5,"title":null}},"y2":{"field":"s2"},"color":{"field":"e","type":"quantitative","legend":null,"scale":{"domain":[0,0.03,0.06,0.09,0.125,0.18,0.24,0.27,0.32,0.405,0.45,0.47,0.5],"range":["#000000","#28003f","#50007f","#2e00b8","#0000ff","#0080ff","#00ffff","#00ff80","#00ff00","#ffff00","#ff8000","#ff1000","#ff0000"]}},"stroke":{"field":"e","type":"quantitative","legend":null,"scale":{"domain":[0,0.03,0.06,0.09,0.125,0.18,0.24,0.27,0.32,0.405,0.45,0.47,0.5],"range":["#000000","#28003f","#50007f","#2e00b8","#0000ff","#0080ff","#00ffff","#00ff80","#00ff00","#ffff00","#ff8000","#ff1000","#ff0000"]}}}},{"data":{"values":[{"b":100,"s":25}]},"mark":{"type":"point","opacity":0},"encoding":{"x":{"field":"b","type":"quantitative","axis":{"orient":"top","labels":false,"title":null,"values":[100,120,140,160,180,200,220,240,260,280,300,320,340,360,380,400,420,440,460,480,500],"tickSize":{"condition":{"test":"datum.value%100==0","value":-7},"value":-3}}},"y":{"field":"s","type":"quantitative","axis":{"orient":"right","labels":false,"title":null,"values":[25,30,35,40,45,50,55,60,65,70,75,80,85,90,95,100,105,110,115,120,125,130,135,140,145,150],"tickSize":{"condition":{"test":"datum.value%20==0","value":-7},"value":-3}}}}}],"resolve":{"axis":{"x":"independent","y":"independent"}}},
{"width":38,"height":179,"data":{"name":"none"},"mark":{"type":"point","opacity":0},"encoding":{}},
{"width":179,"height":179,"title":"(c) log (N/cm⁻³)=9.4","layer":[{"data":{"name":"c2"},"transform":[{"lookup":"b","from":{"data":{"name":"bx"},"key":"b","fields":["b2"]}},{"lookup":"s","from":{"data":{"name":"sx"},"key":"s","fields":["s2"]}}],"mark":{"type":"rect","strokeWidth":0.5},"encoding":{"x":{"field":"b","type":"quantitative","scale":{"domain":[100,500],"nice":false},"axis":{"orient":"bottom","values":[100,120,140,160,180,200,220,240,260,280,300,320,340,360,380,400,420,440,460,480,500],"labelExpr":"datum.value%100==0?datum.value:''","tickSize":{"condition":{"test":"datum.value%100==0","value":-7},"value":-3},"labelPadding":16.5,"title":null}},"x2":{"field":"b2"},"y":{"field":"s","type":"quantitative","scale":{"domain":[25,150],"nice":false},"axis":{"orient":"left","values":[25,30,35,40,45,50,55,60,65,70,75,80,85,90,95,100,105,110,115,120,125,130,135,140,145,150],"labelExpr":"datum.value%20==0?datum.value:''","tickSize":{"condition":{"test":"datum.value%20==0","value":-7},"value":-3},"labelPadding":10.5,"title":null}},"y2":{"field":"s2"},"color":{"field":"e","type":"quantitative","legend":null,"scale":{"domain":[0,0.03,0.06,0.09,0.125,0.18,0.24,0.27,0.32,0.405,0.45,0.47,0.5],"range":["#000000","#28003f","#50007f","#2e00b8","#0000ff","#0080ff","#00ffff","#00ff80","#00ff00","#ffff00","#ff8000","#ff1000","#ff0000"]}},"stroke":{"field":"e","type":"quantitative","legend":null,"scale":{"domain":[0,0.03,0.06,0.09,0.125,0.18,0.24,0.27,0.32,0.405,0.45,0.47,0.5],"range":["#000000","#28003f","#50007f","#2e00b8","#0000ff","#0080ff","#00ffff","#00ff80","#00ff00","#ffff00","#ff8000","#ff1000","#ff0000"]}}}},{"data":{"values":[{"b":100,"s":25}]},"mark":{"type":"point","opacity":0},"encoding":{"x":{"field":"b","type":"quantitative","axis":{"orient":"top","labels":false,"title":null,"values":[100,120,140,160,180,200,220,240,260,280,300,320,340,360,380,400,420,440,460,480,500],"tickSize":{"condition":{"test":"datum.value%100==0","value":-7},"value":-3}}},"y":{"field":"s","type":"quantitative","axis":{"orient":"right","labels":false,"title":null,"values":[25,30,35,40,45,50,55,60,65,70,75,80,85,90,95,100,105,110,115,120,125,130,135,140,145,150],"tickSize":{"condition":{"test":"datum.value%20==0","value":-7},"value":-3}}}}}],"resolve":{"axis":{"x":"independent","y":"independent"}}},
{"width":8,"height":179,"data":{"name":"none"},"mark":{"type":"point","opacity":0},"encoding":{}},
{"width":7,"height":179,"view":{"stroke":"#888"},"data":{"name":"bar"},"mark":"rect","encoding":{"y":{"field":"lo","type":"quantitative","scale":{"domain":[0,0.5],"nice":false},"axis":{"orient":"right","values":[0,0.25,0.5],"format":".2f","tickSize":0,"labelFontSize":11.5,"labelPadding":4,"domain":false,"title":"Relative error","titleFontSize":11.5,"titleAngle":-90,"titlePadding":15}},"y2":{"field":"hi"},"color":{"field":"lo","type":"quantitative","legend":null,"scale":{"domain":[0,0.03,0.06,0.09,0.125,0.18,0.24,0.27,0.32,0.405,0.45,0.47,0.5],"range":["#000000","#28003f","#50007f","#2e00b8","#0000ff","#0080ff","#00ffff","#00ff80","#00ff00","#ffff00","#ff8000","#ff1000","#ff0000"]}}}},
{"width":179,"height":179,"title":"(d) log (N/cm⁻³)=9.6","layer":[{"data":{"name":"d"},"transform":[{"lookup":"b","from":{"data":{"name":"bx"},"key":"b","fields":["b2"]}},{"lookup":"s","from":{"data":{"name":"sx"},"key":"s","fields":["s2"]}}],"mark":{"type":"rect","strokeWidth":0.5},"encoding":{"x":{"field":"b","type":"quantitative","scale":{"domain":[100,500],"nice":false},"axis":{"orient":"bottom","values":[100,120,140,160,180,200,220,240,260,280,300,320,340,360,380,400,420,440,460,480,500],"labelExpr":"datum.value%100==0?datum.value:''","tickSize":{"condition":{"test":"datum.value%100==0","value":-7},"value":-3},"labelPadding":16.5,"titlePadding":-2,"title":"B [G]"}},"x2":{"field":"b2"},"y":{"field":"s","type":"quantitative","scale":{"domain":[25,150],"nice":false},"axis":{"orient":"left","values":[25,30,35,40,45,50,55,60,65,70,75,80,85,90,95,100,105,110,115,120,125,130,135,140,145,150],"labelExpr":"datum.value%20==0?datum.value:''","tickSize":{"condition":{"test":"datum.value%20==0","value":-7},"value":-3},"labelPadding":10.5,"titlePadding":10.5,"title":"(S\\N)₁₇₅"}},"y2":{"field":"s2"},"color":{"field":"e","type":"quantitative","legend":null,"scale":{"domain":[0,0.03,0.06,0.09,0.125,0.18,0.24,0.27,0.32,0.405,0.45,0.47,0.5],"range":["#000000","#28003f","#50007f","#2e00b8","#0000ff","#0080ff","#00ffff","#00ff80","#00ff00","#ffff00","#ff8000","#ff1000","#ff0000"]}},"stroke":{"field":"e","type":"quantitative","legend":null,"scale":{"domain":[0,0.03,0.06,0.09,0.125,0.18,0.24,0.27,0.32,0.405,0.45,0.47,0.5],"range":["#000000","#28003f","#50007f","#2e00b8","#0000ff","#0080ff","#00ffff","#00ff80","#00ff00","#ffff00","#ff8000","#ff1000","#ff0000"]}}}},{"data":{"values":[{"b":100,"s":25}]},"mark":{"type":"point","opacity":0},"encoding":{"x":{"field":"b","type":"quantitative","axis":{"orient":"top","labels":false,"title":null,"values":[100,120,140,160,180,200,220,240,260,280,300,320,340,360,380,400,420,440,460,480,500],"tickSize":{"condition":{"test":"datum.value%100==0","value":-7},"value":-3}}},"y":{"field":"s","type":"quantitative","axis":{"orient":"right","labels":false,"title":null,"values":[25,30,35,40,45,50,55,60,65,70,75,80,85,90,95,100,105,110,115,120,125,130,135,140,145,150],"tickSize":{"condition":{"test":"datum.value%20==0","value":-7},"value":-3}}}}}],"resolve":{"axis":{"x":"independent","y":"independent"}}},
{"width":38,"height":179,"data":{"name":"none"},"mark":{"type":"point","opacity":0},"encoding":{}},
{"width":179,"height":179,"title":"(e) log (N/cm⁻³)=9.8","layer":[{"data":{"name":"e1"},"transform":[{"lookup":"b","from":{"data":{"name":"bx"},"key":"b","fields":["b2"]}},{"lookup":"s","from":{"data":{"name":"sx"},"key":"s","fields":["s2"]}}],"mark":{"type":"rect","strokeWidth":0.5},"encoding":{"x":{"field":"b","type":"quantitative","scale":{"domain":[100,500],"nice":false},"axis":{"orient":"bottom","values":[100,120,140,160,180,200,220,240,260,280,300,320,340,360,380,400,420,440,460,480,500],"labelExpr":"datum.value%100==0?datum.value:''","tickSize":{"condition":{"test":"datum.value%100==0","value":-7},"value":-3},"labelPadding":16.5,"titlePadding":-2,"title":"B [G]"}},"x2":{"field":"b2"},"y":{"field":"s","type":"quantitative","scale":{"domain":[25,150],"nice":false},"axis":{"orient":"left","values":[25,30,35,40,45,50,55,60,65,70,75,80,85,90,95,100,105,110,115,120,125,130,135,140,145,150],"labelExpr":"datum.value%20==0?datum.value:''","tickSize":{"condition":{"test":"datum.value%20==0","value":-7},"value":-3},"labelPadding":10.5,"title":null}},"y2":{"field":"s2"},"color":{"field":"e","type":"quantitative","legend":null,"scale":{"domain":[0,0.03,0.06,0.09,0.125,0.18,0.24,0.27,0.32,0.405,0.45,0.47,0.5],"range":["#000000","#28003f","#50007f","#2e00b8","#0000ff","#0080ff","#00ffff","#00ff80","#00ff00","#ffff00","#ff8000","#ff1000","#ff0000"]}},"stroke":{"field":"e","type":"quantitative","legend":null,"scale":{"domain":[0,0.03,0.06,0.09,0.125,0.18,0.24,0.27,0.32,0.405,0.45,0.47,0.5],"range":["#000000","#28003f","#50007f","#2e00b8","#0000ff","#0080ff","#00ffff","#00ff80","#00ff00","#ffff00","#ff8000","#ff1000","#ff0000"]}}}},{"data":{"values":[{"b":100,"s":25}]},"mark":{"type":"point","opacity":0},"encoding":{"x":{"field":"b","type":"quantitative","axis":{"orient":"top","labels":false,"title":null,"values":[100,120,140,160,180,200,220,240,260,280,300,320,340,360,380,400,420,440,460,480,500],"tickSize":{"condition":{"test":"datum.value%100==0","value":-7},"value":-3}}},"y":{"field":"s","type":"quantitative","axis":{"orient":"right","labels":false,"title":null,"values":[25,30,35,40,45,50,55,60,65,70,75,80,85,90,95,100,105,110,115,120,125,130,135,140,145,150],"tickSize":{"condition":{"test":"datum.value%20==0","value":-7},"value":-3}}}}}],"resolve":{"axis":{"x":"independent","y":"independent"}}},
{"width":38,"height":179,"data":{"name":"none"},"mark":{"type":"point","opacity":0},"encoding":{}},
{"width":179,"height":179,"title":"(f) log (N/cm⁻³)=10.0","layer":[{"data":{"name":"f"},"transform":[{"lookup":"b","from":{"data":{"name":"bx"},"key":"b","fields":["b2"]}},{"lookup":"s","from":{"data":{"name":"sx"},"key":"s","fields":["s2"]}}],"mark":{"type":"rect","strokeWidth":0.5},"encoding":{"x":{"field":"b","type":"quantitative","scale":{"domain":[100,500],"nice":false},"axis":{"orient":"bottom","values":[100,120,140,160,180,200,220,240,260,280,300,320,340,360,380,400,420,440,460,480,500],"labelExpr":"datum.value%100==0?datum.value:''","tickSize":{"condition":{"test":"datum.value%100==0","value":-7},"value":-3},"labelPadding":16.5,"titlePadding":-2,"title":"B [G]"}},"x2":{"field":"b2"},"y":{"field":"s","type":"quantitative","scale":{"domain":[25,150],"nice":false},"axis":{"orient":"left","values":[25,30,35,40,45,50,55,60,65,70,75,80,85,90,95,100,105,110,115,120,125,130,135,140,145,150],"labelExpr":"datum.value%20==0?datum.value:''","tickSize":{"condition":{"test":"datum.value%20==0","value":-7},"value":-3},"labelPadding":10.5,"title":null}},"y2":{"field":"s2"},"color":{"field":"e","type":"quantitative","legend":null,"scale":{"domain":[0,0.03,0.06,0.09,0.125,0.18,0.24,0.27,0.32,0.405,0.45,0.47,0.5],"range":["#000000","#28003f","#50007f","#2e00b8","#0000ff","#0080ff","#00ffff","#00ff80","#00ff00","#ffff00","#ff8000","#ff1000","#ff0000"]}},"stroke":{"field":"e","type":"quantitative","legend":null,"scale":{"domain":[0,0.03,0.06,0.09,0.125,0.18,0.24,0.27,0.32,0.405,0.45,0.47,0.5],"range":["#000000","#28003f","#50007f","#2e00b8","#0000ff","#0080ff","#00ffff","#00ff80","#00ff00","#ffff00","#ff8000","#ff1000","#ff0000"]}}}},{"data":{"values":[{"b":100,"s":25}]},"mark":{"type":"point","opacity":0},"encoding":{"x":{"field":"b","type":"quantitative","axis":{"orient":"top","labels":false,"title":null,"values":[100,120,140,160,180,200,220,240,260,280,300,320,340,360,380,400,420,440,460,480,500],"tickSize":{"condition":{"test":"datum.value%100==0","value":-7},"value":-3}}},"y":{"field":"s","type":"quantitative","axis":{"orient":"right","labels":false,"title":null,"values":[25,30,35,40,45,50,55,60,65,70,75,80,85,90,95,100,105,110,115,120,125,130,135,140,145,150],"tickSize":{"condition":{"test":"datum.value%20==0","value":-7},"value":-3}}}}}],"resolve":{"axis":{"x":"independent","y":"independent"}}}
]}
